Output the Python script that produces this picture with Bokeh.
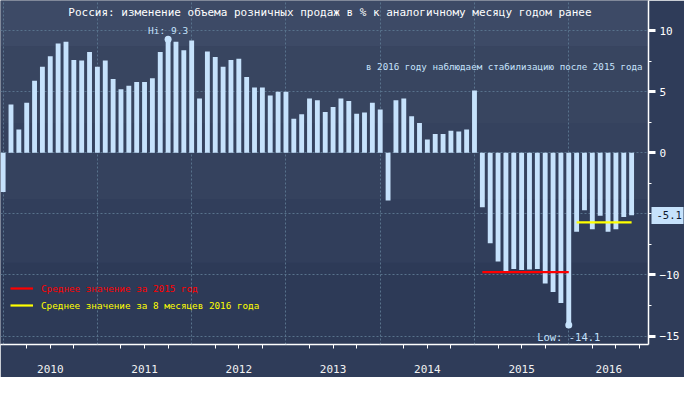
import numpy as np
from bokeh.plotting import figure
from bokeh.models import (Range1d, FixedTicker, BoxAnnotation, Label, Arrow,
                          Legend, LegendItem, LinearAxis)
from bokeh.embed import file_html
from bokeh.resources import INLINE

# ---------------- data ----------------
first_month = "2009-12"          # first bar: Dec 2009 (plotted at month end)
years = ["2010", "2011", "2012", "2013", "2014", "2015", "2016"]
retail_yoy = [
    -3.2,
    3.95, 1.9, 4.1, 5.9, 7.05, 7.9, 8.95, 9.1, 7.6, 7.55, 8.25, 7.05,        # 2010
    7.55, 6.05, 5.2, 5.5, 5.8, 5.8, 6.1, 8.25, 9.3, 9.1, 8.4, 9.2,           # 2011
    4.45, 8.3, 7.85, 7.05, 7.6, 7.7, 6.2, 5.35, 5.35, 4.7, 5.0, 5.0,         # 2012
    2.8, 3.15, 4.45, 4.3, 3.35, 3.75, 4.45, 4.25, 3.2, 3.3, 4.1, 3.55,       # 2013
    -3.9, 4.3, 4.45, 3.0, 2.45, 1.1, 1.55, 1.55, 1.8, 1.75, 1.9, 5.1,       # 2014
    -4.45, -7.4, -8.9, -9.7, -9.5, -9.6, -9.55, -9.5, -10.7, -11.4, -12.3, -14.1,  # 2015
    -6.45, -4.7, -6.25, -5.15, -6.45, -6.25, -5.25, -5.1,                   # 2016
]
y_major = [-15, -10, 0, 5, 10]
y_minor = [-12.5, -7.5, -5, -2.5, 2.5, 7.5]
title_text = "Россия: изменение объема розничных продаж в % к аналогичному месяцу годом ранее"
note_text = "в 2016 году наблюдаем стабилизацию после 2015 года"
legend_2015 = "Среднее значение за 2015 год"
legend_2016 = "Среднее значение за 8 месяцев 2016 года"

# ---------------- derived ----------------
vals = np.array(retail_yoy, dtype=float)
idx = np.arange(len(vals))                      # months after 1 Jan 2010 (month-end dates)
y0, m0 = (int(s) for s in first_month.split("-"))
bar_year = np.array([y0 + (m0 - 1 + k) // 12 for k in idx])
i15 = idx[bar_year == 2015]
i16 = idx[bar_year == 2016]
mean15 = vals[bar_year == 2015].mean()
mean16 = vals[bar_year == 2016].mean()
i_hi = int(np.argmax(vals))
i_lo = int(np.argmin(vals))
last = float(vals[-1])

# ---------------- styles ----------------
FONT = "DejaVu Sans Mono"
BAR = "#c6e2fc"
GRID = "#58728c"
X0, X1 = -0.335, 82.15
Y0, Y1 = -15.69, 12.47

p = figure(width=684, height=377, output_backend="svg", toolbar_location=None,
           x_range=Range1d(X0, X1), y_range=Range1d(Y0, Y1),
           x_axis_location="below", y_axis_location="right",
           min_border_left=0, min_border_top=0, min_border_right=35,
           min_border_bottom=33)
p.outline_line_color = None
p.background_fill_color = "#34415d"
p.border_fill_color = "#2f3c59"

# stepped background gradient
bands = [(8.7, None, "#3d4a66"), (2.4, 8.7, "#384560"), (-3.8, 2.4, "#35425e"),
         (-9.0, -3.8, "#313e5b"), (None, -9.0, "#2d3a57")]
for b, t, c in bands:
    p.add_layout(BoxAnnotation(bottom=b, top=t, fill_color=c, fill_alpha=1,
                               line_color=None, level="image"))

# grids
year_bounds = [12 * i for i in range(len(years))]
p.xgrid.ticker = FixedTicker(ticks=year_bounds)
p.ygrid.ticker = FixedTicker(ticks=[-15, -10, -5, 0, 5, 10])
for g in (p.xgrid[0], p.ygrid[0]):
    g.grid_line_color = GRID
    g.grid_line_dash = "2 2"
    g.grid_line_width = 1

# bars
p.vbar(x=idx, top=vals, bottom=0, width=0.62, fill_color=BAR, line_color=None)

# hi / low markers
p.scatter(x=[idx[i_hi], idx[i_lo]], y=[vals[i_hi], vals[i_lo]], size=7,
          fill_color=BAR, line_color=None)
p.add_layout(Label(x=idx[i_hi], y=vals[i_hi] + 0.75, text=f"Hi: {vals[i_hi]:.1f}",
                   text_align="center", text_baseline="middle",
                   text_font=FONT, text_font_size="9.5px", text_color=BAR))
p.add_layout(Label(x=idx[i_lo], y=vals[i_lo] - 1.0, text=f"Low: {vals[i_lo]:.1f}",
                   text_align="center", text_baseline="middle",
                   text_font=FONT, text_font_size="10.5px", text_color=BAR))

# mean lines
r15 = p.line(x=i15, y=[mean15] * len(i15), line_color="#ff0000", line_width=2.2)
r16 = p.line(x=i16, y=[mean16] * len(i16), line_color="#ffff00", line_width=2.2)

for r, lab, col, loc in ((r15, legend_2015, "#ff0000", (10, 50)),
                         (r16, legend_2016, "#ffff00", (10, 33))):
    lg = Legend(items=[LegendItem(label=lab, renderers=[r])], location=loc,
                label_text_color=col, label_text_font=FONT,
                label_text_font_size="9.3px", glyph_width=23, glyph_height=12,
                label_height=12, label_standoff=8, padding=0, margin=0,
                spacing=0, background_fill_alpha=0, border_line_color=None)
    p.add_layout(lg)

# title & note
p.add_layout(Label(x=41.6, y=11.45, text=title_text, text_align="center",
                   text_baseline="middle", text_font=FONT, text_font_size="11px",
                   text_color="#ffffff"))
p.add_layout(Label(x=81.4, y=7.05, text=note_text, text_align="right",
                   text_baseline="middle", text_font=FONT, text_font_size="9.2px",
                   text_color=BAR))

# right axis
ya = p.yaxis[0]
ya.ticker = FixedTicker(ticks=y_major, minor_ticks=y_minor)
ya.axis_line_color = "#ffffff"
ya.axis_line_width = 1.5
ya.major_tick_line_color = "#ffffff"
ya.major_tick_line_width = 3
ya.major_tick_out = 7
ya.major_tick_in = 0
ya.minor_tick_line_color = "#ffffff"
ya.minor_tick_out = 3
ya.minor_tick_in = 0
ya.major_label_standoff = 4
ya.major_label_text_font = FONT
ya.major_label_text_font_size = "11px"
ya.major_label_text_color = "#ffffff"

# last-value callout: an outer right axis whose single (wide) tick forms the box
cb = LinearAxis(ticker=FixedTicker(ticks=[last], minor_ticks=[]),
                major_label_overrides={last: f"{last:.1f}"})
cb.axis_line_color = None
cb.minor_tick_line_color = None
cb.major_tick_line_color = BAR
cb.major_tick_line_width = 17
cb.major_tick_line_cap = "butt"
cb.major_tick_in = 31
cb.major_tick_out = 1
cb.major_label_standoff = -27
cb.major_label_text_font = FONT
cb.major_label_text_font_size = "10.5px"
cb.major_label_text_color = "#0f1a2e"
p.add_layout(cb, "right")

# bottom axis: year labels centred on each year, quarter ticks
centers = [b + 6.0 for b in year_bounds[:-1]] + [round((year_bounds[-1] + X1) / 2, 1)]
quarters = [b + q for b in year_bounds for q in (3, 6, 9) if b + q < X1]
xa = p.xaxis[0]
xa.ticker = FixedTicker(ticks=centers, minor_ticks=quarters)
xa.major_label_overrides = {c: y for c, y in zip(centers, years)}
xa.axis_line_color = "#ffffff"
xa.axis_line_width = 1.5
xa.major_tick_line_color = None
xa.major_tick_out = 0
xa.major_tick_in = 0
xa.minor_tick_line_color = "#ffffff"
xa.minor_tick_out = 4
xa.minor_tick_in = 0
xa.major_label_standoff = 16
xa.major_label_text_font = FONT
xa.major_label_text_font_size = "11px"
xa.major_label_text_color = "#f2f2f2"

# year separators below the axis
for b in year_bounds:
    p.add_layout(Arrow(x_start=b, y_start=Y0, x_end=b, y_end=Y0 - 4, end=None,
                       line_color="#9ea3ad", line_width=1.5))

open("out.html", "w").write(file_html(p, INLINE))
